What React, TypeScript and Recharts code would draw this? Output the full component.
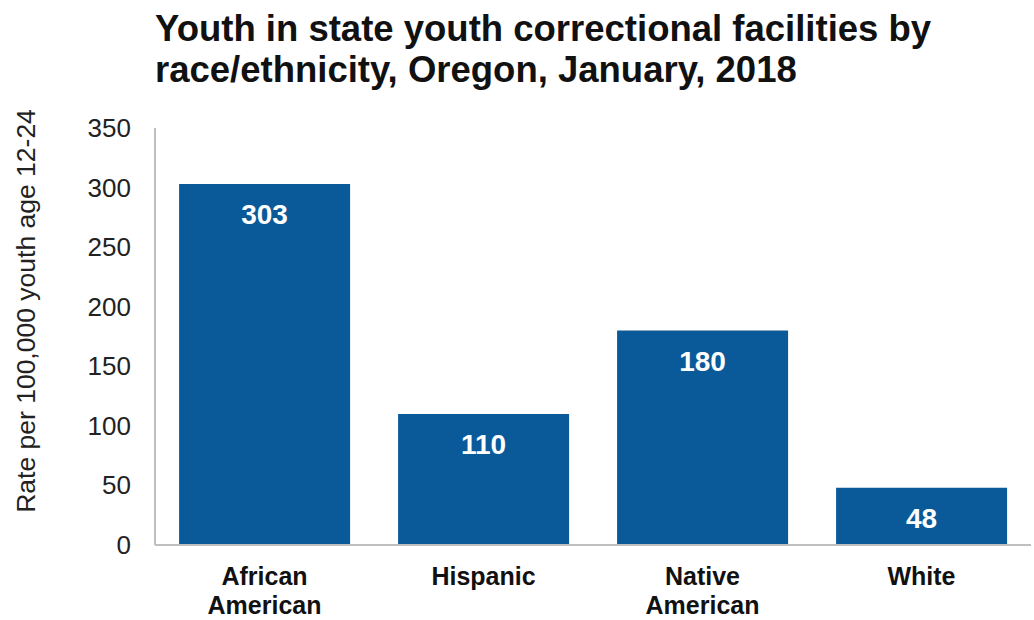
import React from 'react';
import { BarChart, Bar, XAxis, YAxis, LabelList, Label } from 'recharts';

const categories = ['African American', 'Hispanic', 'Native American', 'White'];
const rates = [303, 110, 180, 48];
const yTicks = [0, 50, 100, 150, 200, 250, 300, 350];

const data = categories.map((name, i) => ({ name, rate: rates[i] }));

const FONT = '"Liberation Sans", Arial, sans-serif';
const BLUE = '#0A5A9A';

const YTick = (props: any) => {
  const { x, y, payload } = props;
  return (
    <text x={x - 16} y={y} dy={9} textAnchor="end" fontSize={26} fill="#222" fontFamily={FONT}>
      {payload.value}
    </text>
  );
};

const XTick = (props: any) => {
  const { x, y, payload } = props;
  const words: string[] = payload.value.split(' ');
  return (
    <text x={x} y={y} textAnchor="middle" fontSize={25} fontWeight="bold" fill="#111" fontFamily={FONT}>
      {words.map((w, i) => (
        <tspan key={i} x={x} dy={i === 0 ? 32 : 29}>
          {w}
        </tspan>
      ))}
    </text>
  );
};

const ValueLabel = (props: any) => {
  const { x, y, width, value } = props;
  return (
    <text x={x + width / 2} y={y + 40} textAnchor="middle" fontSize={28} fontWeight="bold" fill="#fff" fontFamily={FONT}>
      {value}
    </text>
  );
};

const App: React.FC = () => {
  return (
    <div style={{ position: 'absolute', left: 0, top: 0, width: 1034, height: 620, background: '#fff' }}>
      <div
        style={{
          position: 'absolute',
          left: 155,
          top: 8,
          fontFamily: FONT,
          fontWeight: 'bold',
          fontSize: 36.5,
          lineHeight: '41px',
          color: '#111',
          whiteSpace: 'nowrap',
        }}
      >
        Youth in state youth correctional facilities by
        <br />
        race/ethnicity, Oregon, January, 2018
      </div>
      <BarChart
        width={1034}
        height={620}
        data={data}
        margin={{ top: 128, right: 3, bottom: 0, left: 0 }}
        barCategoryGap="11%"
      >
        <XAxis
          dataKey="name"
          axisLine={{ stroke: '#BFBFBF', strokeWidth: 2 }}
          tickLine={false}
          tick={<XTick />}
          interval={0}
          height={75}
        />
        <YAxis
          width={155}
          domain={[0, 350]}
          ticks={yTicks}
          axisLine={{ stroke: '#BFBFBF', strokeWidth: 2 }}
          tickLine={false}
          tick={<YTick />}
          interval={0}
        >
          <Label
            content={() => (
              <text
                x={35}
                y={311}
                transform="rotate(-90 35 311)"
                textAnchor="middle"
                fontSize={26.5}
                fill="#222"
                fontFamily={FONT}
              >
                Rate per 100,000 youth age 12-24
              </text>
            )}
          />
        </YAxis>
        <Bar dataKey="rate" fill={BLUE} isAnimationActive={false}>
          <LabelList dataKey="rate" content={<ValueLabel />} />
        </Bar>
      </BarChart>
    </div>
  );
};

export default App;
